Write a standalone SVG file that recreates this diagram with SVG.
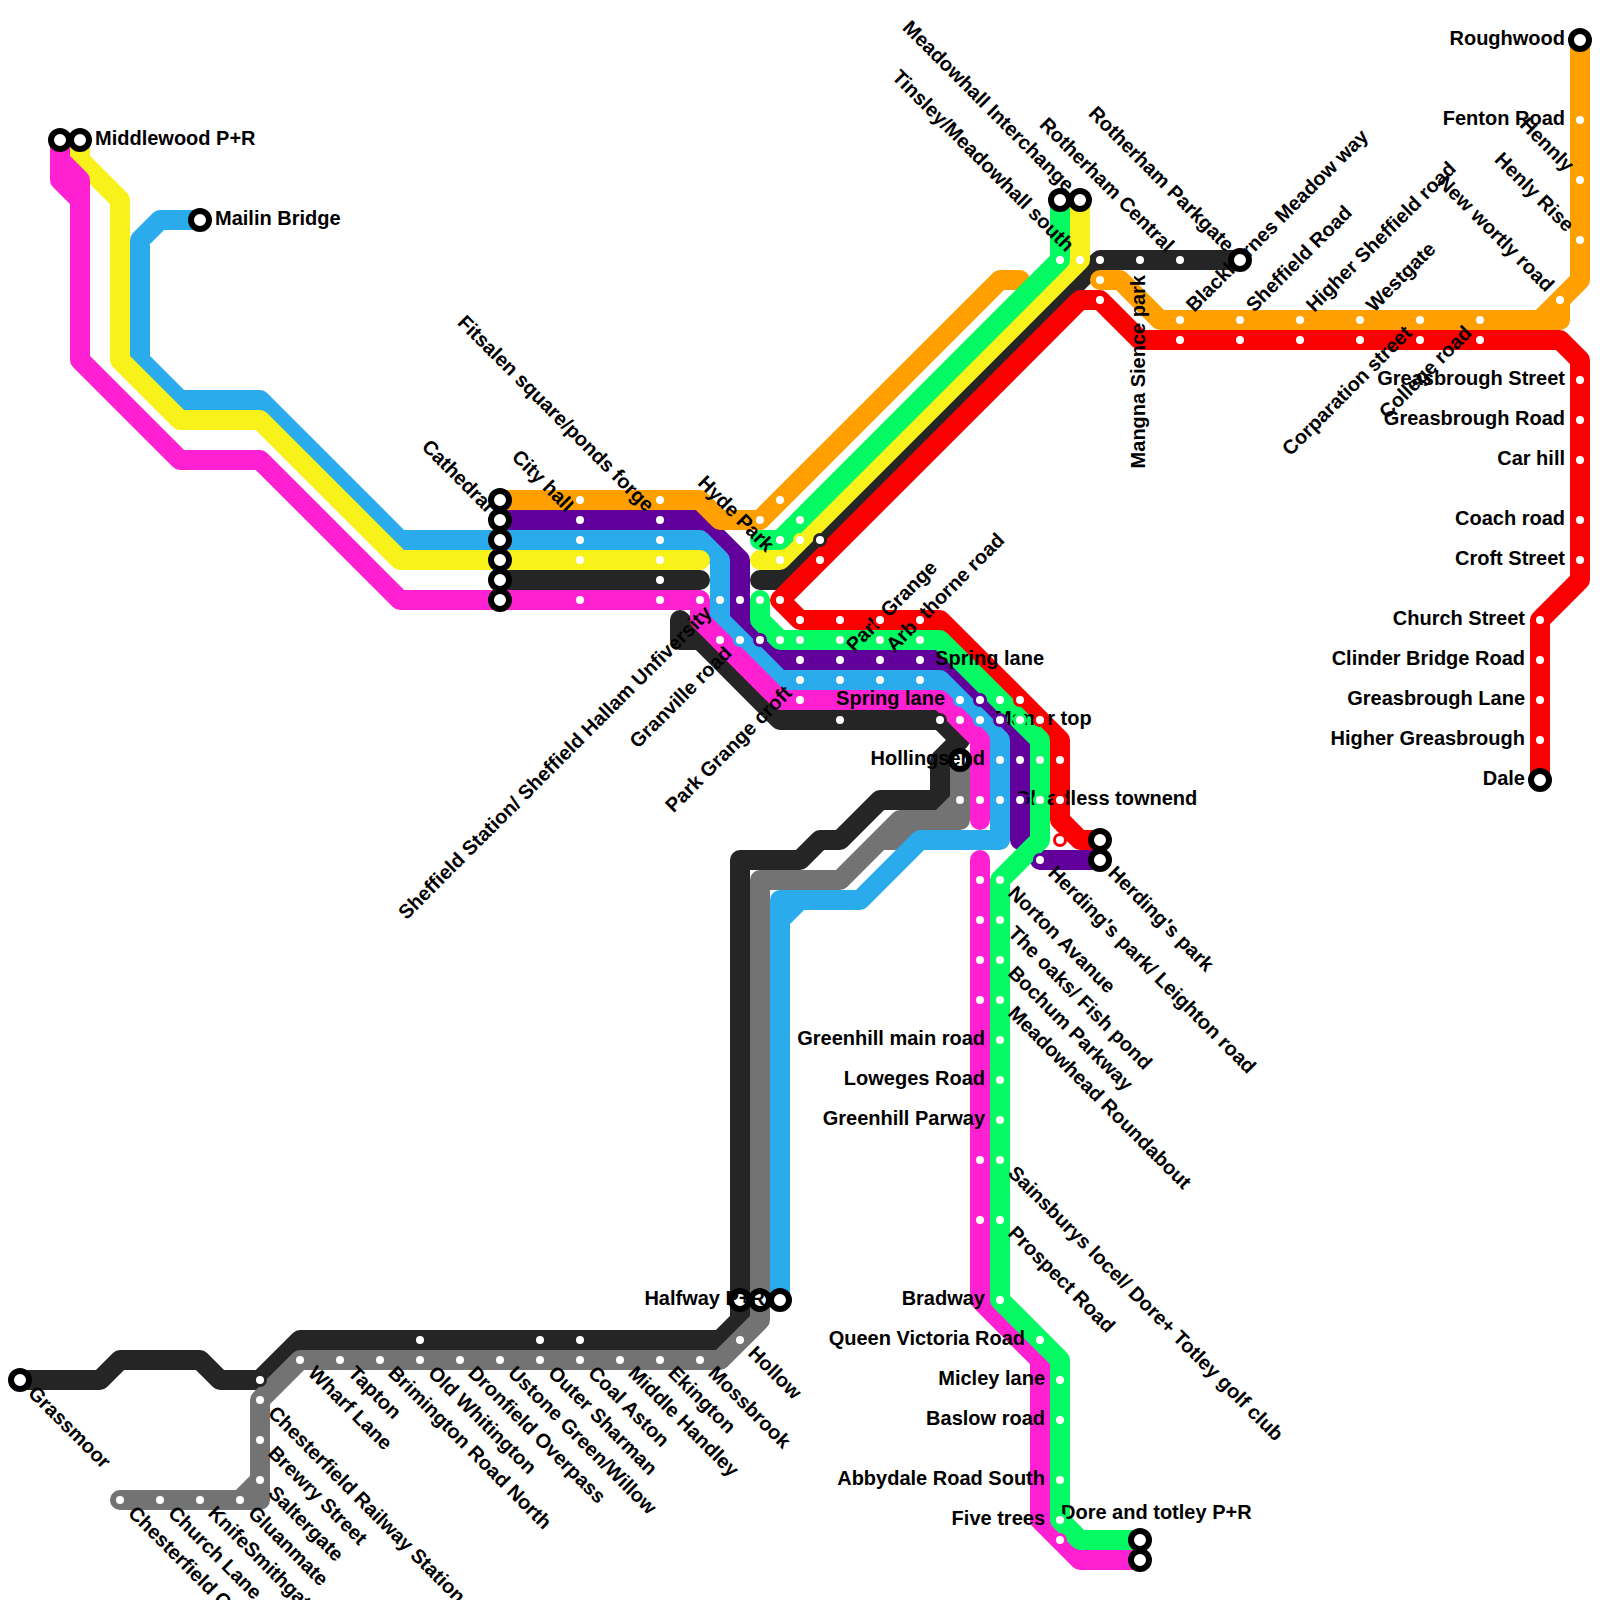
<svg xmlns="http://www.w3.org/2000/svg" width="1600" height="1600" viewBox="0 0 1600 1600">
<style>
.ln{fill:none;stroke-width:20;stroke-linecap:round;stroke-linejoin:round}
.d{fill:#fff;stroke-width:3}
.t{fill:#fff;stroke:#000;stroke-width:6}
text{font-family:"Liberation Sans",Arial,sans-serif;font-weight:bold;font-size:20px;fill:#000}
.e{text-anchor:end}
.k{stroke:#252525}.g{stroke:#737373}.p{stroke:#62009C}.b{stroke:#29ABEC}.y{stroke:#F9F21A}.o{stroke:#FFA000}.m{stroke:#FF20D2}.r{stroke:#FA0000}.v{stroke:#03FA62}
</style>
<rect width="1600" height="1600" fill="#fff"/>
<g id="connectors">
<path id="line-black" class="ln k" d="M500 580H700M760 580H780L1100 260H1240M780 720H940L960 740L940 760V800H880L840 840H820L800 860H740V1320L720 1340H300L260 1380H220L200 1360H120L100 1380H20M780 720L700 640H680V620L700 640"/>
<path id="line-grey" class="ln g" d="M120 1500H260V1400L300 1360H720L760 1320V880H840L900 820H960V760M240 1500L260 1480M880 840H900L920 820M960 800L940 820"/>
<path id="line-purple" class="ln p" d="M500 520H700L740 560V620L780 660H940L1020 740V840M1040 860H1100"/>
<path id="line-blue" class="ln b" d="M200 220H160L140 240V360L180 400H260L400 540H700L720 560V620L780 680H940L1000 740V840H920L860 900H780V1300M800 900L780 920"/>
<path id="line-yellow" class="ln y" d="M80 140V160L120 200V360L180 420H260L400 560H700M760 560H780L1080 260V200"/>
<path id="line-orange" class="ln o" d="M500 500H700L720 520H760L1000 280H1020M1100 280H1120L1160 320H1560V300L1580 280V40M1540 320L1560 300"/>
<path id="line-magenta" class="ln m" d="M60 140V180L80 200V360L180 460H260L400 600H700V620L780 700H940L980 740V820M60 160L80 180V200M980 860V1300L1040 1360V1520L1080 1560H1140"/>
<path id="line-red" class="ln r" d="M1540 780V620L1580 580V360L1560 340H1140L1100 300H1080L780 600L800 620H940L1060 740V820L1080 840H1100"/>
<path id="line-green" class="ln v" d="M760 540H780L1060 260V200M760 600V620L780 640H940L1040 740V840L1000 880V1300L1060 1360V1520L1080 1540H1140"/>
</g>
<g id="nodes">
<g id="blackburnes-meadow-way"><circle class="d o" cx="1180" cy="320" r="5.5"/><text x="1195" y="325" transform="rotate(-45 1180 320)">Blackburnes Meadow way</text></g>
<g id="cathedral"><circle class="t" cx="500" cy="520" r="9"/><text class="e" x="485" y="525" transform="rotate(45 500 520)">Cathedral</text></g>
<g id="term-orange"><circle class="t" cx="500" cy="500" r="9"/></g>
<g id="term-blue"><circle class="t" cx="500" cy="540" r="9"/></g>
<g id="term-yellow"><circle class="t" cx="500" cy="560" r="9"/></g>
<g id="term-black"><circle class="t" cx="500" cy="580" r="9"/></g>
<g id="term-magenta"><circle class="t" cx="500" cy="600" r="9"/></g>
<g id="term-magenta-north"><circle class="t" cx="60" cy="140" r="9"/></g>
<g id="middlewood"><circle class="t" cx="80" cy="140" r="9"/><text x="95" y="145">Middlewood P+R</text></g>
<g id="mailin-bridge"><circle class="t" cx="200" cy="220" r="9"/><text x="215" y="225">Mailin Bridge</text></g>
<g id="tinsley-term"><circle class="t" cx="1060" cy="200" r="9"/></g>
<g id="meadowhall-interchange"><circle class="t" cx="1080" cy="200" r="9"/><text class="e" x="1065" y="205" transform="rotate(45 1080 200)">Meadowhall Interchange</text></g>
<g id="rotherham-parkgate"><circle class="t" cx="1240" cy="260" r="9"/></g>
<g id="roughwood"><circle class="t" cx="1580" cy="40" r="9"/><text class="e" x="1565" y="45">Roughwood</text></g>
<g id="dale"><circle class="t" cx="1540" cy="780" r="9"/><text class="e" x="1525" y="785">Dale</text></g>
<g id="hollingsend"><circle class="t" cx="960" cy="760" r="9"/><text class="e" x="985" y="765">Hollingsend</text></g>
<g id="term-red"><circle class="t" cx="1100" cy="840" r="9"/></g>
<g id="herdings-park"><circle class="t" cx="1100" cy="860" r="9"/><text x="1115" y="865" transform="rotate(45 1100 860)">Herding's park</text></g>
<g id="grassmoor"><circle class="t" cx="20" cy="1380" r="9"/><text x="35" y="1385" transform="rotate(45 20 1380)">Grassmoor</text></g>
<g id="term-black-south"><circle class="t" cx="740" cy="1300" r="9"/></g>
<g id="term-grey-south"><circle class="t" cx="760" cy="1300" r="9"/></g>
<g id="halfway"><circle class="t" cx="780" cy="1300" r="9"/><text class="e" x="765" y="1305">Halfway P+R</text></g>
<g id="dore-totley"><circle class="t" cx="1140" cy="1540" r="9"/><text x="1061" y="1519">Dore and totley P+R</text></g>
<g id="term-magenta-south"><circle class="t" cx="1140" cy="1560" r="9"/></g>

<g id="rotherham-parkgate-label"><text class="e" x="1225" y="265" transform="rotate(45 1240 260)">Rotherham Parkgate</text></g>
<g id="rotherham-central"><circle class="d k" cx="1180" cy="260" r="5.5"/><text class="e" x="1165" y="265" transform="rotate(45 1180 260)">Rotherham Central</text></g>
<g id="mangna"><circle class="d k" cx="1140" cy="260" r="5.5"/><text class="e" x="1125" y="265" transform="rotate(-90 1140 260)">Mangna Sience park</text></g>
<g id="tinsley"><circle class="d k" cx="1100" cy="260" r="5.5"/></g>
<g id="tinsley-south"><circle class="d v" cx="1060" cy="260" r="5.5"/></g>
<g id="tinsley-label"><circle class="d y" cx="1080" cy="260" r="5.5"/><text class="e" x="1065" y="265" transform="rotate(45 1080 260)">Tinsley/Meadowhall south</text></g>
<g id="sheffield-road"><circle class="d o" cx="1240" cy="320" r="5.5"/><text x="1255" y="325" transform="rotate(-45 1240 320)">Sheffield Road</text></g>
<g id="higher-sheffield"><circle class="d o" cx="1300" cy="320" r="5.5"/><text x="1315" y="325" transform="rotate(-45 1300 320)">Higher Sheffield road</text></g>
<g id="westgate"><circle class="d o" cx="1360" cy="320" r="5.5"/><text x="1375" y="325" transform="rotate(-45 1360 320)">Westgate</text></g>
<g id="corparation"><circle class="d o" cx="1420" cy="320" r="5.5"/><text class="e" x="1405" y="325" transform="rotate(-45 1420 320)">Corparation street</text></g>
<g id="college"><circle class="d o" cx="1480" cy="320" r="5.5"/><text class="e" x="1465" y="325" transform="rotate(-45 1480 320)">College road</text></g>
<g id="new-wortly"><circle class="d o" cx="1560" cy="300" r="5.5"/><text class="e" x="1545" y="305" transform="rotate(45 1560 300)">New wortly road</text></g>
<g id="henly-rise"><circle class="d o" cx="1580" cy="240" r="5.5"/><text class="e" x="1565" y="245" transform="rotate(45 1580 240)">Henly Rise</text></g>
<g id="hennly"><circle class="d o" cx="1580" cy="180" r="5.5"/><text class="e" x="1565" y="185" transform="rotate(45 1580 180)">Hennly</text></g>
<g id="fenton"><circle class="d o" cx="1580" cy="120" r="5.5"/><text class="e" x="1565" y="125">Fenton Road</text></g>
<g id="greasbrough-st"><circle class="d r" cx="1580" cy="380" r="5.5"/><text class="e" x="1565" y="385">Greasbrough Street</text></g>
<g id="greasbrough-rd"><circle class="d r" cx="1580" cy="420" r="5.5"/><text class="e" x="1565" y="425">Greasbrough Road</text></g>
<g id="car-hill"><circle class="d r" cx="1580" cy="460" r="5.5"/><text class="e" x="1565" y="465">Car hill</text></g>
<g id="coach-road"><circle class="d r" cx="1580" cy="520" r="5.5"/><text class="e" x="1565" y="525">Coach road</text></g>
<g id="croft-street"><circle class="d r" cx="1580" cy="560" r="5.5"/><text class="e" x="1565" y="565">Croft Street</text></g>
<g id="church-street"><circle class="d r" cx="1540" cy="620" r="5.5"/><text class="e" x="1525" y="625">Church Street</text></g>
<g id="clinder-bridge"><circle class="d r" cx="1540" cy="660" r="5.5"/><text class="e" x="1525" y="665">Clinder Bridge Road</text></g>
<g id="greasbrough-lane"><circle class="d r" cx="1540" cy="700" r="5.5"/><text class="e" x="1525" y="705">Greasbrough Lane</text></g>
<g id="higher-greasbrough"><circle class="d r" cx="1540" cy="740" r="5.5"/><text class="e" x="1525" y="745">Higher Greasbrough</text></g>
<g id="city-hall"><circle class="d p" cx="580" cy="520" r="5.5"/><text class="e" x="565" y="525" transform="rotate(45 580 520)">City hall</text></g>
<g id="fitsalen"><circle class="d p" cx="660" cy="520" r="5.5"/><text class="e" x="645" y="525" transform="rotate(45 660 520)">Fitsalen square/ponds forge</text></g>
<g id="hyde-park"><circle class="d y" cx="780" cy="560" r="5.5"/><text class="e" x="765" y="565" transform="rotate(45 780 560)">Hyde Park</text></g>
<g id="sheffield-station"><circle class="d b" cx="720" cy="600" r="5.5"/><text class="e" x="705" y="605" transform="rotate(-45 720 600)">Sheffield Station/ Sheffield Hallam Unfiversity</text></g>
<g id="granville"><circle class="d b" cx="740" cy="640" r="5.5"/><text class="e" x="725" y="645" transform="rotate(-45 740 640)">Granville road</text></g>
<g id="park-grange-croft"><circle class="d b" cx="800" cy="680" r="5.5"/><text class="e" x="785" y="685" transform="rotate(-45 800 680)">Park Grange croft</text></g>
<g id="park-grange"><circle class="d p" cx="840" cy="660" r="5.5"/><text x="855" y="665" transform="rotate(-45 840 660)">Park Grange</text></g>
<g id="arbothorne"><circle class="d p" cx="880" cy="660" r="5.5"/><text x="895" y="665" transform="rotate(-45 880 660)">Arbothorne road</text></g>
<g id="spring-lane-a"><text class="e" x="1044" y="665">Spring lane</text></g>
<g id="spring-lane-b"><circle class="d b" cx="960" cy="700" r="5.5"/><text class="e" x="945" y="705">Spring lane</text></g>
<g id="manor-top"><circle class="d b" cx="980" cy="720" r="5.5"/><text x="995" y="725">Manor top</text></g>
<g id="gleadless"><circle class="d b" cx="1000" cy="800" r="5.5"/><text x="1015" y="805">Gleadless townend</text></g>
<g id="herdings-leighton"><circle class="d p" cx="1040" cy="860" r="5.5"/><text x="1055" y="865" transform="rotate(45 1040 860)">Herding's park/ Leighton road</text></g>
<g id="norton"><circle class="d v" cx="1000" cy="880" r="5.5"/><text x="1015" y="885" transform="rotate(45 1000 880)">Norton Avanue</text></g>
<g id="oaks"><circle class="d v" cx="1000" cy="920" r="5.5"/><text x="1015" y="925" transform="rotate(45 1000 920)">The oaks/ Fish pond</text></g>
<g id="bochum"><circle class="d v" cx="1000" cy="960" r="5.5"/><text x="1015" y="965" transform="rotate(45 1000 960)">Bochum Parkway</text></g>
<g id="meadowhead"><circle class="d v" cx="1000" cy="1000" r="5.5"/><text x="1015" y="1005" transform="rotate(45 1000 1000)">Meadowhead Roundabout</text></g>
<g id="greenhill-main"><circle class="d v" cx="1000" cy="1040" r="5.5"/><text class="e" x="985" y="1045">Greenhill main road</text></g>
<g id="loweges"><circle class="d v" cx="1000" cy="1080" r="5.5"/><text class="e" x="985" y="1085">Loweges Road</text></g>
<g id="greenhill-parway"><circle class="d v" cx="1000" cy="1120" r="5.5"/><text class="e" x="985" y="1125">Greenhill Parway</text></g>
<g id="sainsburys"><circle class="d v" cx="1000" cy="1160" r="5.5"/><text x="1015" y="1165" transform="rotate(45 1000 1160)">Sainsburys locel/ Dore+ Totley golf club</text></g>
<g id="prospect"><circle class="d v" cx="1000" cy="1220" r="5.5"/><text x="1015" y="1225" transform="rotate(45 1000 1220)">Prospect Road</text></g>
<g id="bradway"><circle class="d v" cx="1000" cy="1300" r="5.5"/><text class="e" x="985" y="1305">Bradway</text></g>
<g id="queen-victoria"><circle class="d v" cx="1040" cy="1340" r="5.5"/><text class="e" x="1025" y="1345">Queen Victoria Road</text></g>
<g id="micley"><circle class="d v" cx="1060" cy="1380" r="5.5"/><text class="e" x="1045" y="1385">Micley lane</text></g>
<g id="baslow"><circle class="d v" cx="1060" cy="1420" r="5.5"/><text class="e" x="1045" y="1425">Baslow road</text></g>
<g id="abbydale"><circle class="d v" cx="1060" cy="1480" r="5.5"/><text class="e" x="1045" y="1485">Abbydale Road South</text></g>
<g id="five-trees"><circle class="d v" cx="1060" cy="1520" r="5.5"/><text class="e" x="1045" y="1525">Five trees</text></g>
<g id="wharf-lane"><circle class="d g" cx="300" cy="1360" r="5.5"/><text x="315" y="1365" transform="rotate(45 300 1360)">Wharf Lane</text></g>
<g id="tapton"><circle class="d g" cx="340" cy="1360" r="5.5"/><text x="355" y="1365" transform="rotate(45 340 1360)">Tapton</text></g>
<g id="brimington"><circle class="d g" cx="380" cy="1360" r="5.5"/><text x="395" y="1365" transform="rotate(45 380 1360)">Brimington Road North</text></g>
<g id="old-whitington"><circle class="d g" cx="420" cy="1360" r="5.5"/><text x="435" y="1365" transform="rotate(45 420 1360)">Old Whitington</text></g>
<g id="dronfield"><circle class="d g" cx="460" cy="1360" r="5.5"/><text x="475" y="1365" transform="rotate(45 460 1360)">Dronfield Overpass</text></g>
<g id="ustone"><circle class="d g" cx="500" cy="1360" r="5.5"/><text x="515" y="1365" transform="rotate(45 500 1360)">Ustone Green/Willow</text></g>
<g id="outer-sharman"><circle class="d g" cx="540" cy="1360" r="5.5"/><text x="555" y="1365" transform="rotate(45 540 1360)">Outer Sharman</text></g>
<g id="coal-aston"><circle class="d g" cx="580" cy="1360" r="5.5"/><text x="595" y="1365" transform="rotate(45 580 1360)">Coal Aston</text></g>
<g id="middle-handley"><circle class="d g" cx="620" cy="1360" r="5.5"/><text x="635" y="1365" transform="rotate(45 620 1360)">Middle Handley</text></g>
<g id="ekington"><circle class="d g" cx="660" cy="1360" r="5.5"/><text x="675" y="1365" transform="rotate(45 660 1360)">Ekington</text></g>
<g id="mossbrook"><circle class="d g" cx="700" cy="1360" r="5.5"/><text x="715" y="1365" transform="rotate(45 700 1360)">Mossbrook</text></g>
<g id="hollow"><circle class="d g" cx="740" cy="1340" r="5.5"/><text x="755" y="1345" transform="rotate(45 740 1340)">Hollow</text></g>
<g id="chesterfield-station"><circle class="d g" cx="260" cy="1400" r="5.5"/><text x="275" y="1405" transform="rotate(45 260 1400)">Chesterfield Railway Station</text></g>
<g id="brewry"><circle class="d g" cx="260" cy="1440" r="5.5"/><text x="275" y="1445" transform="rotate(45 260 1440)">Brewry Street</text></g>
<g id="saltergate"><circle class="d g" cx="260" cy="1480" r="5.5"/><text x="275" y="1485" transform="rotate(45 260 1480)">Saltergate</text></g>
<g id="gluanmate"><circle class="d g" cx="240" cy="1500" r="5.5"/><text x="255" y="1505" transform="rotate(45 240 1500)">Gluanmate</text></g>
<g id="knifesmithgate"><circle class="d g" cx="200" cy="1500" r="5.5"/><text x="215" y="1505" transform="rotate(45 200 1500)">KnifeSmithgate</text></g>
<g id="church-lane"><circle class="d g" cx="160" cy="1500" r="5.5"/><text x="175" y="1505" transform="rotate(45 160 1500)">Church Lane</text></g>
<g id="chesterfield-c"><circle class="d g" cx="120" cy="1500" r="5.5"/><text x="135" y="1505" transform="rotate(45 120 1500)">Chesterfield C</text></g>
</g>
<g id="stops">
<g id="o1"><circle class="d o" cx="580" cy="500" r="5.5"/></g>
<g id="o2"><circle class="d o" cx="660" cy="500" r="5.5"/></g>
<g id="o3"><circle class="d o" cx="760" cy="520" r="5.5"/></g>
<g id="o4"><circle class="d o" cx="780" cy="500" r="5.5"/></g>
<g id="o5"><circle class="d o" cx="1100" cy="280" r="5.5"/></g>
<g id="p1"><circle class="d p" cx="740" cy="600" r="5.5"/></g>
<g id="p2"><circle class="d p" cx="760" cy="640" r="5.5"/></g>
<g id="p3"><circle class="d p" cx="800" cy="660" r="5.5"/></g>
<g id="p4"><circle class="d p" cx="920" cy="660" r="5.5"/></g>
<g id="p5"><circle class="d p" cx="980" cy="700" r="5.5"/></g>
<g id="p6"><circle class="d p" cx="1000" cy="720" r="5.5"/></g>
<g id="p7"><circle class="d p" cx="1020" cy="760" r="5.5"/></g>
<g id="p8"><circle class="d p" cx="1020" cy="800" r="5.5"/></g>
<g id="b1"><circle class="d b" cx="580" cy="540" r="5.5"/></g>
<g id="b2"><circle class="d b" cx="660" cy="540" r="5.5"/></g>
<g id="b3"><circle class="d b" cx="840" cy="680" r="5.5"/></g>
<g id="b4"><circle class="d b" cx="880" cy="680" r="5.5"/></g>
<g id="b5"><circle class="d b" cx="920" cy="680" r="5.5"/></g>
<g id="b6"><circle class="d b" cx="1000" cy="760" r="5.5"/></g>
<g id="y1"><circle class="d y" cx="580" cy="560" r="5.5"/></g>
<g id="y2"><circle class="d y" cx="660" cy="560" r="5.5"/></g>
<g id="y3"><circle class="d y" cx="800" cy="540" r="5.5"/></g>
<g id="k1"><circle class="d k" cx="660" cy="580" r="5.5"/></g>
<g id="k2"><circle class="d k" cx="820" cy="540" r="5.5"/></g>
<g id="k3"><circle class="d k" cx="840" cy="720" r="5.5"/></g>
<g id="k4"><circle class="d k" cx="940" cy="720" r="5.5"/></g>
<g id="k5"><circle class="d k" cx="420" cy="1340" r="5.5"/></g>
<g id="k6"><circle class="d k" cx="540" cy="1340" r="5.5"/></g>
<g id="k7"><circle class="d k" cx="580" cy="1340" r="5.5"/></g>
<g id="k8"><circle class="d k" cx="260" cy="1380" r="5.5"/></g>
<g id="g1"><circle class="d g" cx="960" cy="800" r="5.5"/></g>
<g id="m1"><circle class="d m" cx="580" cy="600" r="5.5"/></g>
<g id="m2"><circle class="d m" cx="660" cy="600" r="5.5"/></g>
<g id="m3"><circle class="d m" cx="700" cy="600" r="5.5"/></g>
<g id="m4"><circle class="d m" cx="720" cy="640" r="5.5"/></g>
<g id="m5"><circle class="d m" cx="800" cy="700" r="5.5"/></g>
<g id="m6"><circle class="d m" cx="960" cy="720" r="5.5"/></g>
<g id="m7"><circle class="d m" cx="980" cy="800" r="5.5"/></g>
<g id="m8"><circle class="d m" cx="980" cy="880" r="5.5"/></g>
<g id="m9"><circle class="d m" cx="980" cy="920" r="5.5"/></g>
<g id="m10"><circle class="d m" cx="980" cy="960" r="5.5"/></g>
<g id="m11"><circle class="d m" cx="980" cy="1000" r="5.5"/></g>
<g id="m12"><circle class="d m" cx="980" cy="1160" r="5.5"/></g>
<g id="m13"><circle class="d m" cx="980" cy="1220" r="5.5"/></g>
<g id="m14"><circle class="d m" cx="1060" cy="1540" r="5.5"/></g>
<g id="r1"><circle class="d r" cx="820" cy="560" r="5.5"/></g>
<g id="r2"><circle class="d r" cx="780" cy="600" r="5.5"/></g>
<g id="r3"><circle class="d r" cx="800" cy="620" r="5.5"/></g>
<g id="r4"><circle class="d r" cx="840" cy="620" r="5.5"/></g>
<g id="r5"><circle class="d r" cx="880" cy="620" r="5.5"/></g>
<g id="r6"><circle class="d r" cx="920" cy="620" r="5.5"/></g>
<g id="r7"><circle class="d r" cx="1020" cy="700" r="5.5"/></g>
<g id="r8"><circle class="d r" cx="1040" cy="720" r="5.5"/></g>
<g id="r9"><circle class="d r" cx="1060" cy="760" r="5.5"/></g>
<g id="r10"><circle class="d r" cx="1060" cy="800" r="5.5"/></g>
<g id="r11"><circle class="d r" cx="1060" cy="840" r="5.5"/></g>
<g id="r12"><circle class="d r" cx="1100" cy="300" r="5.5"/></g>
<g id="r13"><circle class="d r" cx="1180" cy="340" r="5.5"/></g>
<g id="r14"><circle class="d r" cx="1240" cy="340" r="5.5"/></g>
<g id="r15"><circle class="d r" cx="1300" cy="340" r="5.5"/></g>
<g id="r16"><circle class="d r" cx="1360" cy="340" r="5.5"/></g>
<g id="r17"><circle class="d r" cx="1420" cy="340" r="5.5"/></g>
<g id="r18"><circle class="d r" cx="1480" cy="340" r="5.5"/></g>
<g id="v1"><circle class="d v" cx="780" cy="540" r="5.5"/></g>
<g id="v2"><circle class="d v" cx="800" cy="520" r="5.5"/></g>
<g id="v3"><circle class="d v" cx="760" cy="600" r="5.5"/></g>
<g id="v4"><circle class="d v" cx="780" cy="640" r="5.5"/></g>
<g id="v5"><circle class="d v" cx="800" cy="640" r="5.5"/></g>
<g id="v6"><circle class="d v" cx="840" cy="640" r="5.5"/></g>
<g id="v7"><circle class="d v" cx="880" cy="640" r="5.5"/></g>
<g id="v8"><circle class="d v" cx="920" cy="640" r="5.5"/></g>
<g id="v9"><circle class="d v" cx="1000" cy="700" r="5.5"/></g>
<g id="v10"><circle class="d v" cx="1020" cy="720" r="5.5"/></g>
<g id="v11"><circle class="d v" cx="1040" cy="760" r="5.5"/></g>
<g id="v12"><circle class="d v" cx="1040" cy="800" r="5.5"/></g>
</g>
</svg>
